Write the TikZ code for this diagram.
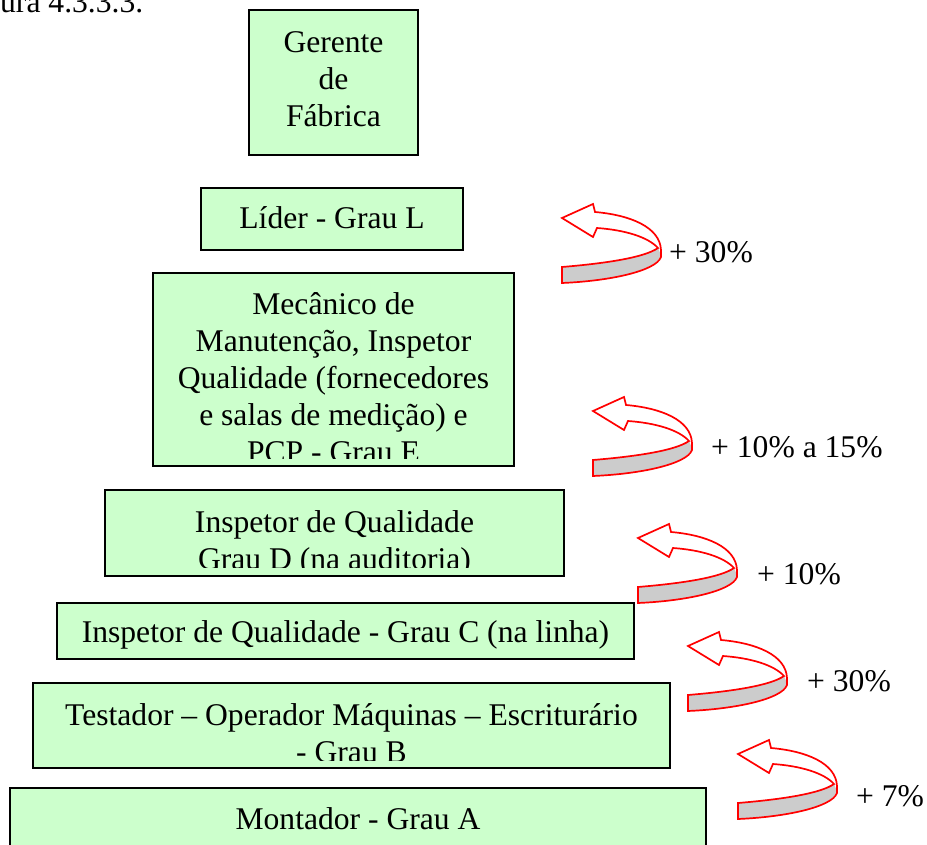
\documentclass[tikz,border=0pt]{standalone}
\usepackage{fontspec}
\setmainfont{Liberation Serif}
\definecolor{tierfill}{RGB}{204,255,204}
\definecolor{bandgray}{RGB}{204,204,204}
\tikzset{
  tier/.style={draw=black, line width=1.6pt, fill=tierfill, inner sep=0pt},
  tiertext/.style={font=\fontsize{31.6pt}{37pt}\selectfont, align=center,
    inner sep=0pt, anchor=north},
  pct/.style={font=\fontsize{31.6pt}{37pt}\selectfont, inner sep=0pt,
    anchor=base west},
  arrowred/.style={draw=red, line width=1.7pt, line join=miter},
  % U-turn ribbon arrow: grey band below, open arrow pointing left above
  upturn/.pic={
    \fill[bandgray] (2,62) .. controls (50,58) and (85,52) .. (98,43)
      -- (101,50) .. controls (96,66) and (50,76) .. (2,78) -- cycle;
    \path[arrowred] (35,7) .. controls (70,10) and (100,22) .. (101,45)
      -- (101,52) .. controls (96,66) and (50,76) .. (2,78) -- (2,62)
      .. controls (50,58) and (85,52) .. (98,43)
      .. controls (88,32) and (65,25) .. (37,23)
      -- (33,32) -- (2,13) -- (33,-1) -- cycle;
  }
}
\begin{document}
\begin{tikzpicture}[x=1pt,y=-1pt]
\useasboundingbox (0,0) rectangle (927,845);
\clip (0,0) rectangle (927,845);

% caption fragment, running off the top edge
\node[pct] (caption) at (0,13) {ura 4.3.3.3.};

% tiers (strut height 0.7*37pt = 25.9pt above the first baseline)
\node[tier, minimum width=169pt, minimum height=145pt] (gerente) at (333.5,82.5) {};
\node[tiertext] (gerentetxt) at (333.5,26.1) {\strut Gerente\\de\\Fábrica};

\node[tier, minimum width=262pt, minimum height=62pt] (lider) at (332,219) {};
\node[tiertext] (lidertxt) at (332,202.1) {\strut Líder - Grau L};

\node[tier, minimum width=361pt, minimum height=193pt] (mecanico) at (333.5,369.5) {};
\begin{scope}
  \clip (153,273) rectangle (514,458);
  \node[tiertext] (mecanicotxt) at (333.5,288.1)
    {\strut Mecânico de\\Manutenção, Inspetor\\Qualidade (fornecedores\\e salas de medição) e\\PCP - Grau E};
\end{scope}

\node[tier, minimum width=459pt, minimum height=86pt] (inspd) at (334.5,533) {};
\begin{scope}
  \clip (105,490) rectangle (564,567);
  \node[tiertext] (inspdtxt) at (334.5,506.1)
    {\strut Inspetor de Qualidade\\Grau D (na auditoria)};
\end{scope}

\node[tier, minimum width=577pt, minimum height=56pt] (inspc) at (345.5,631) {};
\node[tiertext] (inspctxt) at (345.5,616.1) {\strut Inspetor de Qualidade - Grau C (na linha)};

\node[tier, minimum width=637pt, minimum height=85pt] (testador) at (351.5,725.5) {};
\begin{scope}
  \clip (33,683) rectangle (670,760);
  \node[tiertext] (testadortxt) at (351.5,699.1)
    {\strut Testador – Operador Máquinas – Escriturário\\- Grau B};
\end{scope}

\node[tier, minimum width=696pt, minimum height=82pt] (montador) at (358,829) {};
\node[tiertext] (montadortxt) at (358,803.1) {\strut Montador - Grau A};

% step-up arrows and increments
\pic (up1) at (560,205) {upturn};
\node[pct] (pct1) at (669,263) {+ 30\%};

\pic (up2) at (591,398) {upturn};
\node[pct] (pct2) at (711,457) {+ 10\% a 15\%};

\pic (up3) at (636,525) {upturn};
\node[pct] (pct3) at (757,584) {+ 10\%};

\pic (up4) at (686,633) {upturn};
\node[pct] (pct4) at (807,691) {+ 30\%};

\pic (up5) at (736,741) {upturn};
\node[pct] (pct5) at (856,806) {+ 7\%};
\end{tikzpicture}
\end{document}
